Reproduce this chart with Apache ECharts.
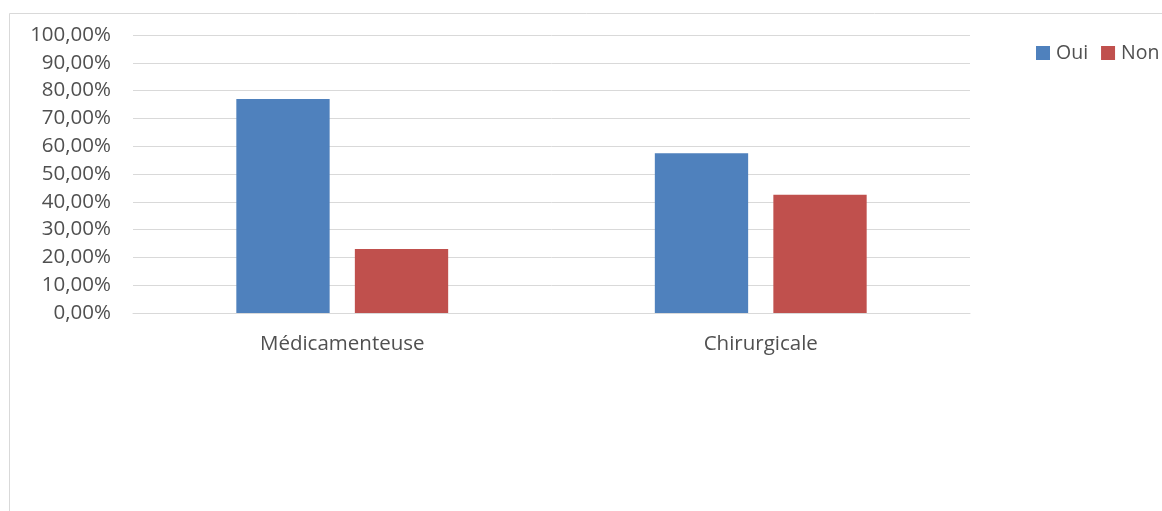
<!DOCTYPE html>
<html>
<head>
<meta charset="utf-8">
<script src="https://cdn.jsdelivr.net/npm/echarts@6/dist/echarts.min.js"></script>
<style>
  html, body { margin: 0; padding: 0; background: #fff; }
  #chart { width: 1162px; height: 511px; }
</style>
</head>
<body>
<div id="chart"></div>
<script>
// Categories and series values (percent)
const categories = ['Médicamenteuse', 'Chirurgicale'];
const seriesNames = ['Oui', 'Non'];
const ouiValues = [77.0, 57.5];
const nonValues = [23.0, 42.5];
const colors = ['#4f81bd', '#c0504d'];

const FONT = '"Open Sans", sans-serif';
const TEXT = '#505050';
const pct = v => v.toFixed(2).replace('.', ',') + '%';

const chart = echarts.init(document.getElementById('chart'));
chart.setOption({
  animation: false,
  backgroundColor: '#ffffff',
  graphic: [{
    type: 'rect',
    shape: { x: 9.5, y: 13.5, width: 1200, height: 600 },
    style: { fill: 'none', stroke: '#d9d9d9', lineWidth: 1 },
    silent: true
  }],
  legend: {
    left: 1031, top: 38, width: 240, orient: 'horizontal',
    itemWidth: 14, itemHeight: 14, itemGap: 13,
    icon: 'rect',
    textStyle: { fontFamily: FONT, fontSize: 19.5, color: TEXT, padding: [0, 0, 0, 1] },
    data: seriesNames
  },
  grid: { left: 133, right: 192, top: 35, bottom: 198, containLabel: false },
  xAxis: {
    type: 'category',
    data: categories,
    axisLine: { lineStyle: { color: '#d9d9d9' } },
    axisTick: { show: false },
    axisLabel: { fontFamily: FONT, fontSize: 20.5, color: TEXT, margin: 21 }
  },
  yAxis: {
    type: 'value',
    min: 0, max: 100, interval: 10,
    axisLine: { show: false },
    axisTick: { show: false },
    splitLine: { lineStyle: { color: '#d9d9d9' } },
    axisLabel: { fontFamily: FONT, fontSize: 20.5, color: TEXT, margin: 22, formatter: pct }
  },
  series: [
    { name: seriesNames[0], type: 'bar', data: ouiValues, barWidth: '22.3%', barGap: '27%',
      itemStyle: { color: colors[0] } },
    { name: seriesNames[1], type: 'bar', data: nonValues, barWidth: '22.3%', barGap: '27%',
      itemStyle: { color: colors[1] } }
  ]
});
</script>
</body>
</html>
